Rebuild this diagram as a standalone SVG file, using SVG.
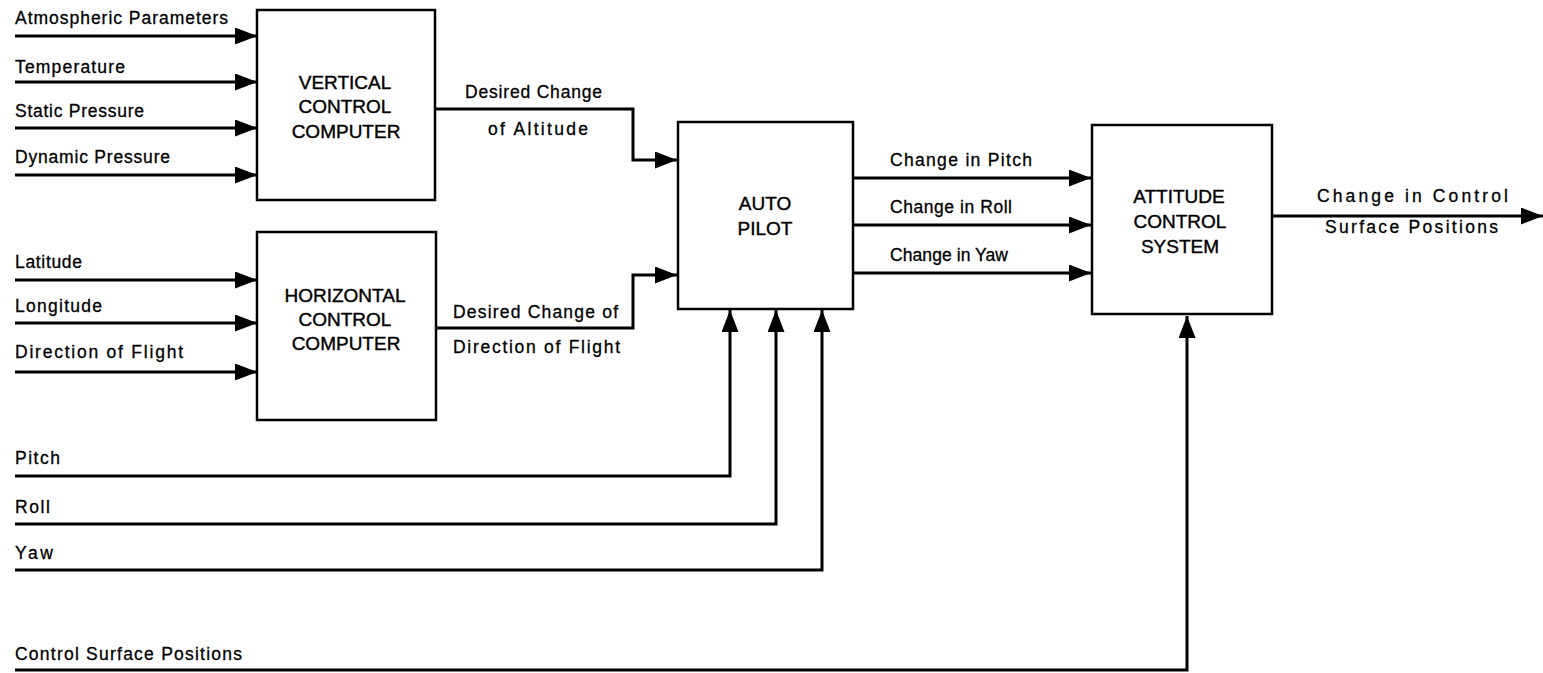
<svg xmlns="http://www.w3.org/2000/svg" width="1543" height="673" viewBox="0 0 1543 673">
<style>
.box{fill:#fff;stroke:#000;stroke-width:2.5}
.lbl{font-family:"Liberation Sans",Arial,sans-serif;font-size:17.5px;fill:#000;stroke:#000;stroke-width:0.3}
.blbl{font-family:"Liberation Sans",Arial,sans-serif;font-size:19px;fill:#000;stroke:#000;stroke-width:0.4;text-anchor:middle}
.wire{fill:none;stroke:#000;stroke-width:3}
</style>
<defs>
<marker id="ah" markerUnits="userSpaceOnUse" markerWidth="22" markerHeight="17" refX="22" refY="8.5" orient="auto">
<path d="M0,0 L22,8.5 L0,17 z" fill="#000"/>
</marker>
</defs>
<rect width="1543" height="673" fill="#fff"/>
<g id="connectors">
<path class="wire" marker-end="url(#ah)" d="M15,36 H257"/>
<path class="wire" marker-end="url(#ah)" d="M15,82 H257"/>
<path class="wire" marker-end="url(#ah)" d="M15,128 H257"/>
<path class="wire" marker-end="url(#ah)" d="M15,175 H257"/>
<path class="wire" marker-end="url(#ah)" d="M15,280 H257"/>
<path class="wire" marker-end="url(#ah)" d="M15,323 H257"/>
<path class="wire" marker-end="url(#ah)" d="M15,372 H257"/>
<path class="wire" marker-end="url(#ah)" d="M435,109 H633 V160 H677"/>
<path class="wire" marker-end="url(#ah)" d="M436,328 H633 V275 H677"/>
<path class="wire" marker-end="url(#ah)" d="M853,178 H1091"/>
<path class="wire" marker-end="url(#ah)" d="M853,225 H1091"/>
<path class="wire" marker-end="url(#ah)" d="M853,273 H1091"/>
<path class="wire" marker-end="url(#ah)" d="M1272,216 H1543"/>
<path class="wire" marker-end="url(#ah)" d="M15,476 H730 V310"/>
<path class="wire" marker-end="url(#ah)" d="M15,524 H776 V310"/>
<path class="wire" marker-end="url(#ah)" d="M15,570 H822 V310"/>
<path class="wire" marker-end="url(#ah)" d="M15,670 H1187 V316"/>
<text class="lbl" x="15" y="24" textLength="213">Atmospheric Parameters</text>
<text class="lbl" x="15" y="73" textLength="110">Temperature</text>
<text class="lbl" x="15" y="117" textLength="129">Static Pressure</text>
<text class="lbl" x="15" y="163" textLength="155">Dynamic Pressure</text>
<text class="lbl" x="15" y="268" textLength="67">Latitude</text>
<text class="lbl" x="15" y="312" textLength="87">Longitude</text>
<text class="lbl" x="15" y="358" textLength="168">Direction of Flight</text>
<text class="lbl" x="465" y="98" textLength="137">Desired Change</text>
<text class="lbl" x="488" y="135" textLength="100">of Altitude</text>
<text class="lbl" x="453" y="318" textLength="165">Desired Change of</text>
<text class="lbl" x="453" y="353" textLength="167">Direction of Flight</text>
<text class="lbl" x="890" y="166" textLength="142">Change in Pitch</text>
<text class="lbl" x="890" y="213" textLength="122">Change in Roll</text>
<text class="lbl" x="890" y="261" textLength="118">Change in Yaw</text>
<text class="lbl" x="1317" y="202" textLength="191">Change in Control</text>
<text class="lbl" x="1325" y="233" textLength="173">Surface Positions</text>
<text class="lbl" x="15" y="464" textLength="45">Pitch</text>
<text class="lbl" x="15" y="513" textLength="35">Roll</text>
<text class="lbl" x="15" y="559" textLength="38">Yaw</text>
<text class="lbl" x="15" y="660" textLength="227">Control Surface Positions</text>
</g>
<g id="vertical-control-computer">
<rect class="box" x="257" y="10" width="178" height="190"/>
<text class="blbl" x="345" y="89">VERTICAL</text>
<text class="blbl" x="345" y="113">CONTROL</text>
<text class="blbl" x="346" y="138">COMPUTER</text>
</g>
<g id="horizontal-control-computer">
<rect class="box" x="257" y="232" width="179" height="188"/>
<text class="blbl" x="345" y="302">HORIZONTAL</text>
<text class="blbl" x="345" y="326">CONTROL</text>
<text class="blbl" x="346" y="350">COMPUTER</text>
</g>
<g id="auto-pilot">
<rect class="box" x="678" y="122" width="175" height="187"/>
<text class="blbl" x="765" y="210">AUTO</text>
<text class="blbl" x="765" y="235">PILOT</text>
</g>
<g id="attitude-control-system">
<rect class="box" x="1092" y="125" width="180" height="189"/>
<text class="blbl" x="1179" y="203">ATTITUDE</text>
<text class="blbl" x="1180" y="228">CONTROL</text>
<text class="blbl" x="1180" y="253">SYSTEM</text>
</g>
</svg>
